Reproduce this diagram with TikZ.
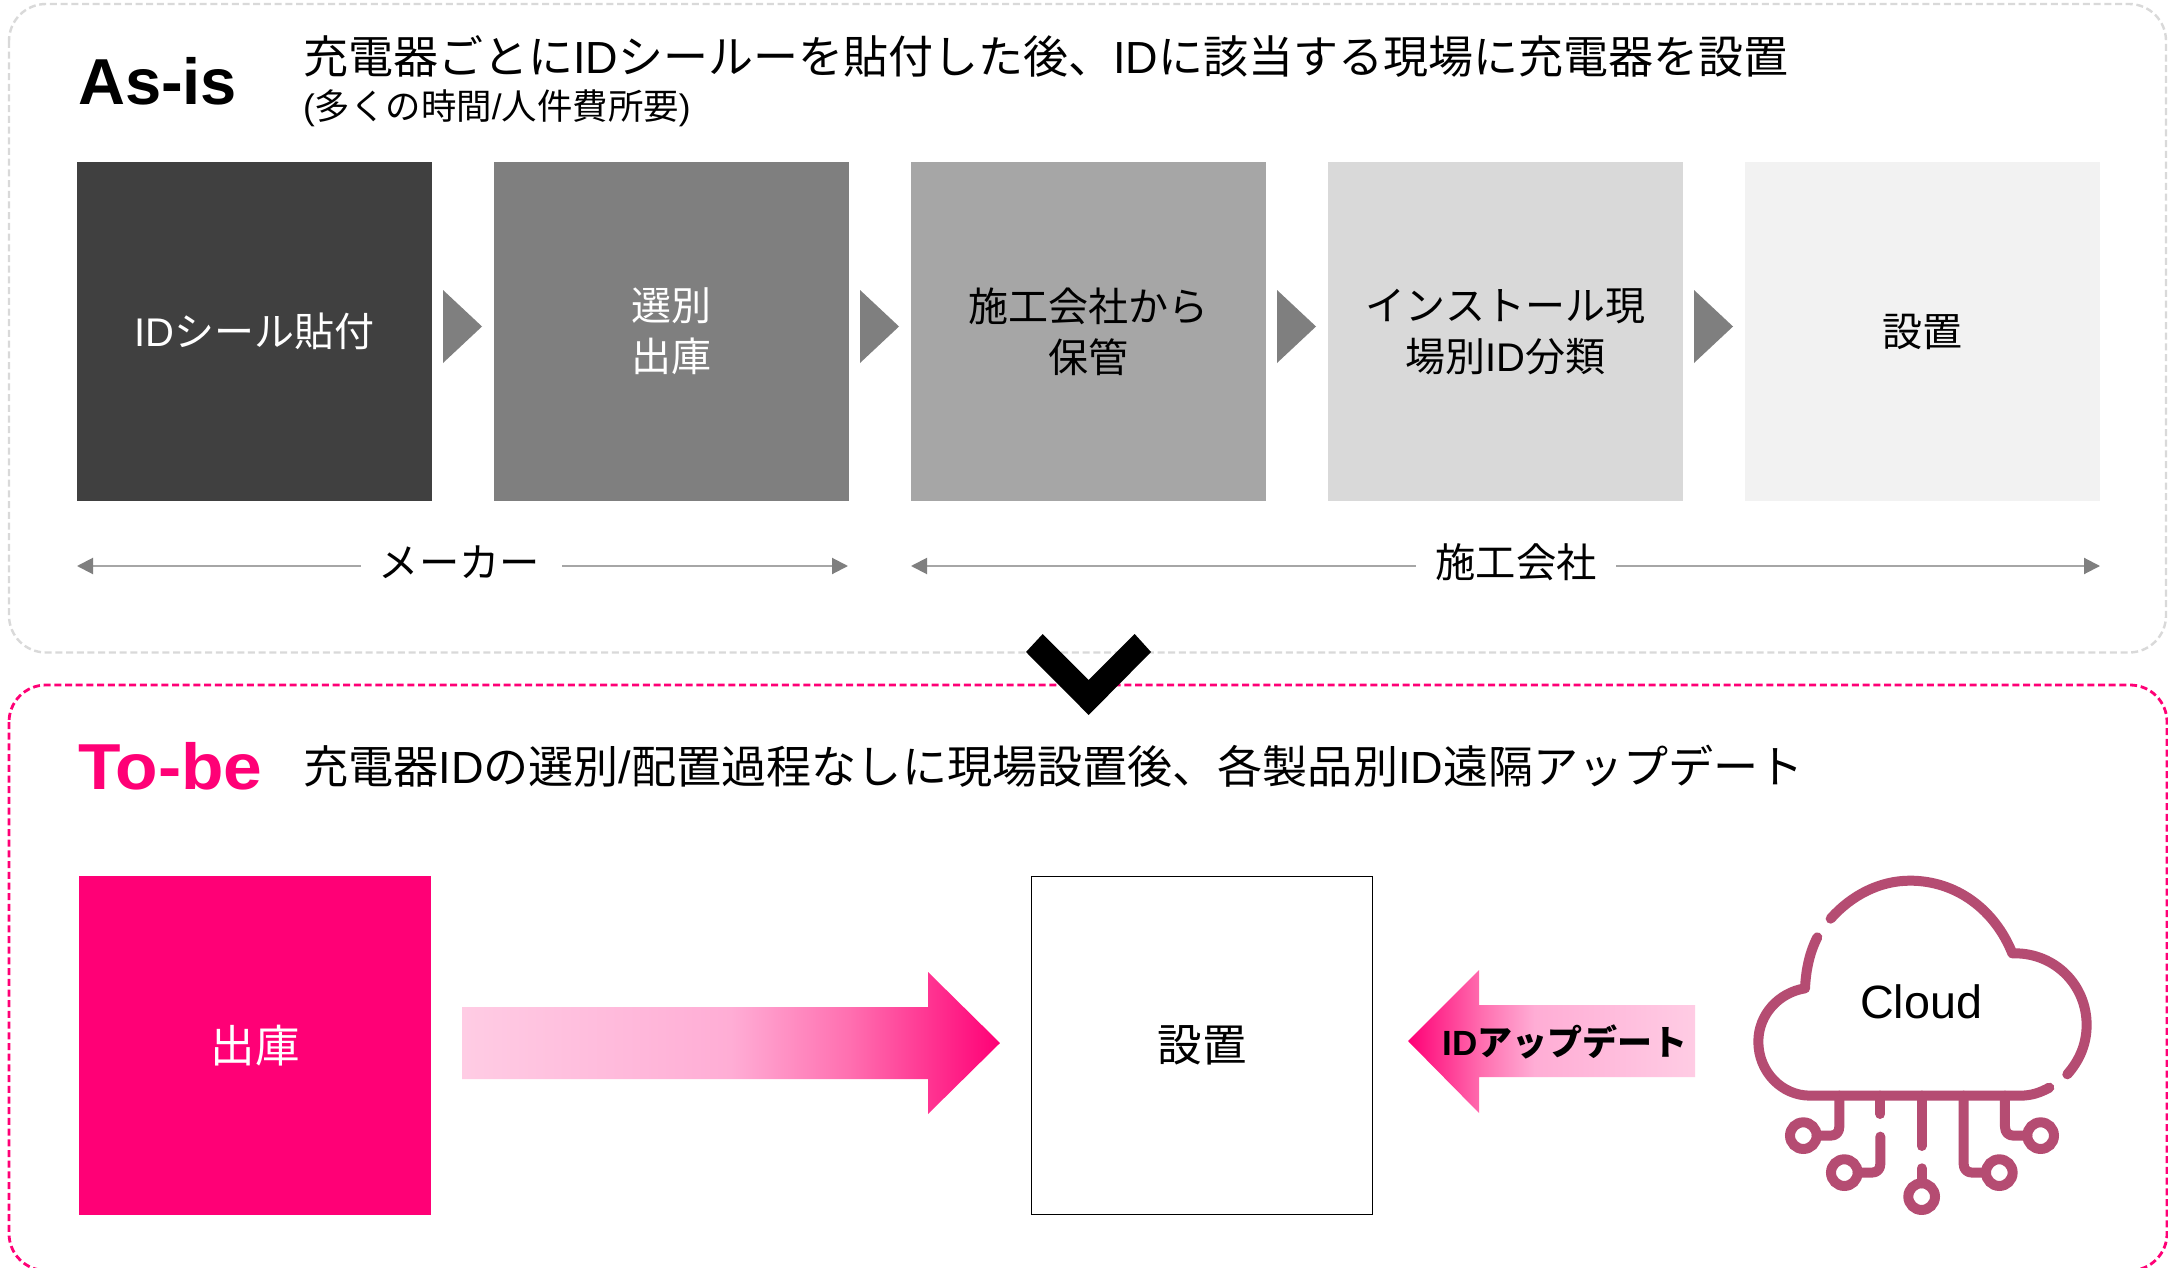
\documentclass[tikz,border=0pt]{standalone}
\usepackage{fontspec}
\setmainfont{Noto Sans CJK JP}
\newfontfamily\lat{Liberation Sans}
\newfontfamily\latw[FakeStretch=1.07]{Liberation Sans}
\usetikzlibrary{arrows.meta}
\definecolor{pinkc}{HTML}{FF0076}
\definecolor{pinkl}{HTML}{FFCCE4}
\definecolor{pinkm}{HTML}{FFADD5}
\definecolor{pinkn}{HTML}{FF6FB0}
\definecolor{dash}{HTML}{D9D9D9}
\definecolor{cloudc}{HTML}{B54C72}
\definecolor{g1}{HTML}{404040}
\definecolor{g2}{HTML}{7F7F7F}
\definecolor{g3}{HTML}{A6A6A6}
\definecolor{g4}{HTML}{D9D9D9}
\definecolor{g5}{HTML}{F2F2F2}
\pgfdeclarehorizontalshading{gradright}{100bp}{color(0bp)=(pinkl); color(25bp)=(pinkl); color(50bp)=(pinkm); color(61bp)=(pinkn); color(75bp)=(pinkc); color(100bp)=(pinkc)}
\pgfdeclarehorizontalshading{gradleft}{100bp}{color(0bp)=(pinkc); color(25bp)=(pinkc); color(38bp)=(pinkn); color(47bp)=(pinkm); color(75bp)=(pinkl); color(100bp)=(pinkl)}
\newcommand{\fs}[1]{\fontsize{#1}{#1}\selectfont}
\newcommand{\ID}{{\lat ID}}
\tikzset{
  x=1pt,y=-1pt,
  panel/.style={rounded corners=37pt,dash pattern=on 7pt off 3.7pt},
  stepbox/.style={minimum width=355pt,minimum height=339.5pt,inner sep=0pt,align=center,font=\fontsize{40}{51}\selectfont},
  wordtext/.style={inner sep=0pt,anchor=base west},
  spanl/.style={draw=g3,line width=2pt,{Triangle[length=16pt,width=16pt,color=g2]}-},
  spanr/.style={draw=g3,line width=2pt,-{Triangle[length=16pt,width=16pt,color=g2]}},
  spanlabel/.style={inner sep=0pt,font=\fs{40.3}},
  cloudline/.style={draw=cloudc,line width=10pt,line cap=round,line join=round},
}
\begin{document}
\begin{tikzpicture}
\useasboundingbox (0,0) rectangle (2168,1268);
\fill[white] (0,0) rectangle (2168,1268);
% panels
\draw[panel,draw=dash,line width=2.4pt] (9,4) rectangle (2166,652.5);
\draw[panel,draw=pinkc,line width=2.8pt] (9,685) rectangle (2167,1270.5);
\fill[black] (1026,652) -- (1042.7,634) -- (1088.7,680) -- (1134.7,634) -- (1151,652) -- (1088.7,715) -- cycle;
% headings
\node[wordtext,font=\lat\bfseries\fs{65}] (asis) at (78,105) {As-is};
\node[wordtext,font=\fs{45}] (t1) at (303,74) {充電器ごとに\ID シールーを貼付した後、\ID に該当する現場に充電器を設置};
\node[wordtext,font=\fs{35.4}] (t2) at (303,120) {{\lat (}多くの時間{\lat /}人件費所要{\lat )}};
\node[wordtext,font=\latw\bfseries\fs{65},text=pinkc] (tobe) at (78,789.5) {To-be};
\node[wordtext,font=\fs{45.1}] (t3) at (303,783) {充電器\ID の選別{\lat /}配置過程なしに現場設置後、各製品別\ID 遠隔アップデート};
% steps
\node[stepbox,fill=g1,text=white] (b1) at (254.5,331.5) {\ID シール貼付};
\node[stepbox,fill=g2,text=white] (b2) at (671.5,331.5) {選別\\出庫};
\node[stepbox,fill=g3] (b3) at (1088.5,331.5) {施工会社から\\保管};
\node[stepbox,fill=g4] (b4) at (1505.5,331.5) {インストール現\\場別\ID 分類};
\node[stepbox,fill=g5] (b5) at (1922.5,331.5) {設置};
\foreach \x in {443,860,1277,1694}{
  \fill[g2] (\x,290) -- (\x,363) -- (\x+39,326.5) -- cycle;
}
% spans
\coordinate (m1) at (77,566);
\coordinate (m2) at (848,566);
\coordinate (s1) at (911,566);
\coordinate (s2) at (2100,566);
\node[spanlabel,minimum width=200pt] (maker) at (459.5,562) {メーカー};
\node[spanlabel,minimum width=200pt] (sekou) at (1516,562) {施工会社};
\draw[spanl] (m1) -- (361,566);
\draw[spanr] (562,566) -- (m2);
\draw[spanl] (s1) -- (1416,566);
\draw[spanr] (1616,566) -- (s2);
% to-be
\node[inner sep=0pt,minimum width=352pt,minimum height=339pt,fill=pinkc,text=white,font=\fs{44.5}] (out) at (255,1045.5) {出庫};
\node[inner sep=0pt,minimum width=341pt,minimum height=338pt,draw=black,line width=1.5pt,font=\fs{44.5}] (inst) at (1202,1045.5) {\raisebox{-1pt}{設置}};
\shade[shading=gradright] (462,1007) -- (928,1007) -- (928,972) -- (1000,1043) -- (928,1114) -- (928,1079) -- (462,1079) -- cycle;
\shade[shading=gradleft] (1695,1005) -- (1479,1005) -- (1479,970) -- (1408,1041) -- (1479,1113) -- (1479,1077) -- (1695,1077) -- cycle;
\node[inner sep=0pt,font=\bfseries\fs{35}] (upd) at (1565,1042) {\ID アップデート};
% cloud
\begin{scope}[shift={(1700,840)},x=0.3333pt,y=-0.3333pt]
\draw[cloudline] (392,236) .. controls (455,165) and (540,122) .. (630,122) .. controls (770,122) and (885,210) .. (937,340) -- (945,340) .. controls (1065,340) and (1160,435) .. (1160,555) .. controls (1160,610) and (1140,660) .. (1102,703);
\draw[cloudline] (1048,743) .. controls (1020,758) and (995,767) .. (960,767) -- (330,767) .. controls (245,767) and (175,695) .. (175,605) .. controls (175,525) and (235,458) .. (315,445) .. controls (318,385) and (330,335) .. (352,292);
\draw[cloudline] (418,767) -- (418,860) .. controls (418,877) and (408,887) .. (392,887) -- (350,887);
\draw[cloudline] (541,767) -- (541,822);
\draw[cloudline] (541,890) -- (541,972) .. controls (541,988) and (531,998) .. (515,998) -- (473,998);
\draw[cloudline] (665,767) -- (665,918);
\draw[cloudline] (665,985) -- (665,1030);
\draw[cloudline] (791,767) -- (791,972) .. controls (791,988) and (801,998) .. (817,998) -- (858,998);
\draw[cloudline] (915,767) -- (915,860) .. controls (915,877) and (925,887) .. (941,887) -- (982,887);
\foreach \cx/\cy in {310/887,433/998,665/1070,898/998,1022/887}{
  \draw[draw=cloudc,line width=10pt] (\cx,\cy) circle[radius=40];
}
\end{scope}
\node[inner sep=0pt,anchor=base,font=\lat\fs{46.7}] (cloud) at (1921,1018.5) {Cloud};
\end{tikzpicture}
\end{document}
